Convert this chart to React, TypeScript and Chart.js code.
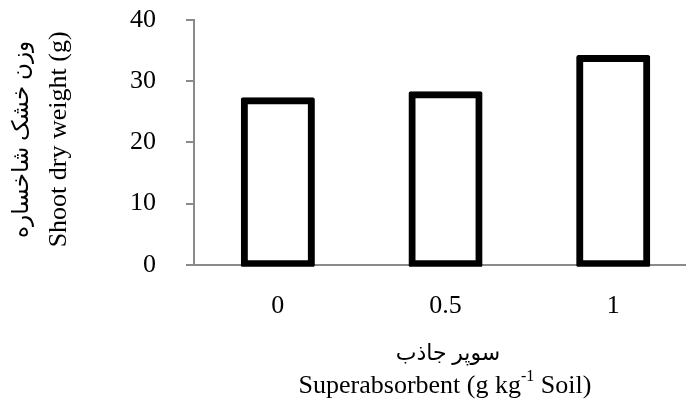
import React, { useEffect, useRef } from "react";
import { Chart, registerables } from "chart.js";

Chart.register(...registerables);

const categories = ["0", "0.5", "1"];
const shootDryWeight = [26.8, 27.8, 33.7];
const yMin = 0;
const yMax = 40;
const yStep = 10;
const yTitlePersian = "وزن خشک شاخساره";
const yTitleEnglish = "Shoot dry weight (g)";
const xTitlePersian = "سوپر جاذب";
const xTitleParts = ["Superabsorbent (g kg", "-1", " Soil)"];

const FONT = "'Liberation Serif', 'Times New Roman', 'DejaVu Sans', serif";
const AXIS_GRAY = "#8a8a8a";

const titlesPlugin = {
  id: "titlesPlugin",
  afterDraw(chart: any) {
    const { ctx, chartArea } = chart;
    const cx = (chartArea.left + chartArea.right) / 2;
    const cy = (chartArea.top + chartArea.bottom) / 2 - 3;
    ctx.save();
    ctx.fillStyle = "#000";
    ctx.textBaseline = "middle";
    ctx.textAlign = "center";

    const drawRot = (text: string, font: string, x: number) => {
      ctx.save();
      ctx.font = font;
      ctx.translate(x, cy);
      ctx.rotate(-Math.PI / 2);
      ctx.fillText(text, 0, 0);
      ctx.restore();
    };
    drawRot(yTitlePersian, `23px ${FONT}`, chartArea.left - 172);
    drawRot(yTitleEnglish, `26px ${FONT}`, chartArea.left - 135);

    ctx.font = `22px ${FONT}`;
    ctx.fillText(xTitlePersian, cx + 8, chartArea.bottom + 89);

    const y = chartArea.bottom + 121;
    const main = `26px ${FONT}`;
    const sup = `16px ${FONT}`;
    ctx.font = main;
    const w1 = ctx.measureText(xTitleParts[0]).width;
    const w3 = ctx.measureText(xTitleParts[2]).width;
    ctx.font = sup;
    const w2 = ctx.measureText(xTitleParts[1]).width;
    let x = cx + 5 - (w1 + w2 + w3) / 2;
    ctx.textAlign = "left";
    ctx.font = main;
    ctx.fillText(xTitleParts[0], x, y);
    x += w1;
    ctx.font = sup;
    ctx.fillText(xTitleParts[1], x, y - 9);
    x += w2;
    ctx.font = main;
    ctx.fillText(xTitleParts[2], x, y);
    ctx.restore();
  },
};

export default function App() {
  const ref = useRef<HTMLCanvasElement | null>(null);

  useEffect(() => {
    if (!ref.current) return;
    const chart = new Chart(ref.current, {
      type: "bar",
      data: {
        datasets: [
          {
            data: categories.map((_, i) => ({ x: i, y: shootDryWeight[i] })),
            backgroundColor: "#ffffff",
            borderColor: "#000000",
            borderWidth: 7,
            borderRadius: 2,
            borderSkipped: false,
            inflateAmount: 3.5,
            categoryPercentage: 0.5,
            barPercentage: 0.8,
            clip: { left: false, top: false, right: false, bottom: 2 },
          } as any,
        ],
      },
      options: {
        responsive: false,
        animation: false,
        devicePixelRatio: 1,
        layout: { padding: { top: 20, right: 0, bottom: 55, left: 100 } },
        plugins: {
          legend: { display: false },
          tooltip: { enabled: false },
        },
        scales: {
          x: {
            type: "linear",
            offset: false,
            min: -0.5,
            max: 2.434,
            afterBuildTicks: (s: any) => {
              s.ticks = categories.map((_, i) => ({ value: i }));
            },
            afterFit: (s: any) => {
              s.paddingLeft = 0;
              s.paddingRight = 0;
            },
            ticks: {
              callback: (v: any) => categories[v as number] ?? "",
              font: { size: 26, family: FONT },
              color: "#000",
              padding: 26,
              maxRotation: 0,
              autoSkip: false,
            },
            grid: { display: false, drawTicks: false },
            border: { display: true, color: AXIS_GRAY, width: 2 },
          },
          y: {
            min: yMin,
            max: yMax,
            afterFit: (s: any) => {
              s.paddingTop = 0;
              s.paddingBottom = 0;
            },
            ticks: {
              stepSize: yStep,
              font: { size: 26, family: FONT },
              color: "#000",
              padding: 30,
            },
            grid: {
              drawOnChartArea: false,
              drawTicks: true,
              tickLength: 8,
              color: AXIS_GRAY,
              lineWidth: 2,
            },
            border: { color: AXIS_GRAY, width: 2 },
          },
        },
      } as any,
      plugins: [titlesPlugin],
    });
    return () => chart.destroy();
  }, []);

  return (
    <canvas
      ref={ref}
      width={686}
      height={403}
      style={{ position: "absolute", left: 0, top: 0, display: "block", background: "#fff" }}
    />
  );
}
